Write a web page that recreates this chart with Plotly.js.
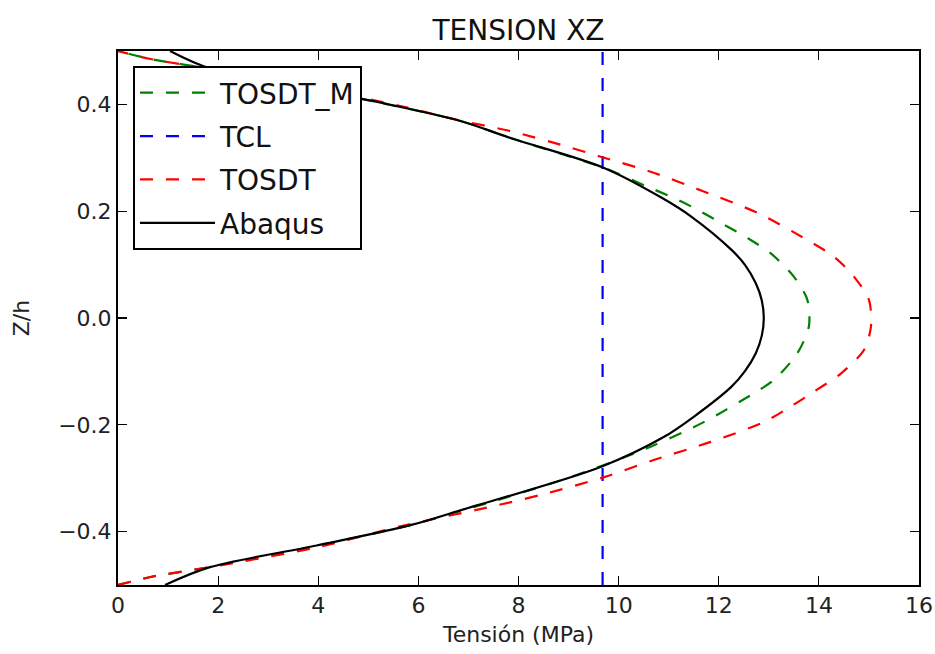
<!DOCTYPE html>
<html>
<head>
<meta charset="utf-8">
<script src="https://cdn.plot.ly/plotly-3.0.1.min.js"></script>
<style>html,body{margin:0;padding:0;background:#fff;}#chart{width:935px;height:654px;}</style>
</head>
<body>
<div id="chart"></div>
<script>
// TOSDT_M (green)
const zGreen = [-0.5, -0.485, -0.467, -0.43, -0.388, -0.36, -0.296, -0.241, -0.195, -0.141, -0.116, -0.066, -0.016, 0.034, 0.0775, 0.121, 0.15, 0.175, 0.203, 0.225, 0.246, 0.281, 0.337, 0.369, 0.406, 0.43, 0.467, 0.485, 0.5];
const xGreen = [0, 0.65, 1.8, 3.8, 5.84, 6.9, 9.1, 10.64, 11.7, 12.7, 13.1, 13.57, 13.8, 13.77, 13.5, 13.04, 12.57, 12.1, 11.57, 11.1, 10.57, 9.71, 7.84, 6.84, 5.1, 3.8, 1.8, 0.65, 0];
// TCL (blue)
const zTCL = [-0.5, 0.5];
const xTCL = [9.68, 9.68];
// TOSDT (red)
const zRed = [-0.5, -0.485, -0.467, -0.43, -0.39, -0.355, -0.33, -0.298, -0.266, -0.232, -0.195, -0.165, -0.138, -0.104, -0.06, -0.016, 0.034, 0.0775, 0.115, 0.146, 0.197, 0.237, 0.273, 0.302, 0.321, 0.35, 0.371, 0.397, 0.43, 0.467, 0.485, 0.5];
const xRed = [0, 0.65, 1.8, 3.95, 5.64, 7.37, 8.5, 9.71, 10.7, 11.84, 12.9, 13.45, 13.9, 14.44, 14.9, 15.04, 15.0, 14.7, 14.3, 13.77, 12.77, 11.7, 10.67, 9.64, 8.97, 7.84, 6.77, 5.64, 3.95, 1.8, 0.65, 0];
// Abaqus (black)
const zAbaqus = [-0.5, -0.467, -0.426, -0.388, -0.36, -0.279, -0.223, -0.185, -0.129, -0.1, -0.066, -0.033, 0, 0.033, 0.065, 0.1, 0.128, 0.19, 0.2246, 0.281, 0.337, 0.369, 0.406, 0.467, 0.5];
const xAbaqus = [0.94, 1.82, 3.97, 5.84, 6.84, 9.64, 10.9, 11.5, 12.25, 12.52, 12.74, 12.86, 12.9, 12.86, 12.74, 12.52, 12.25, 11.45, 10.87, 9.71, 7.84, 6.84, 5.1, 1.85, 1.04];

const xTicks = [0, 2, 4, 6, 8, 10, 12, 14, 16];
const yTicks = [-0.4, -0.2, 0.0, 0.2, 0.4];
const yTickText = ['\u22120.4', '\u22120.2', '0.0', '0.2', '0.4'];

const dash = '13px,13px';
const lw = 2.2;
const traces = [
  {x: xGreen, y: zGreen, name: 'TOSDT_M', legendgroup: 'g1', mode: 'lines', line: {color: '#008000', width: lw, dash: dash, shape: 'spline', smoothing: 0.8}},
  {x: xTCL, y: zTCL, name: 'TCL', legendgroup: 'g2', mode: 'lines', line: {color: '#0000ff', width: lw, dash: dash}},
  {x: xRed, y: zRed, name: 'TOSDT', legendgroup: 'g3', mode: 'lines', line: {color: '#ff0000', width: lw, dash: dash, shape: 'spline', smoothing: 0.8}},
  {x: xAbaqus, y: zAbaqus, name: 'Abaqus', legendgroup: 'g4', mode: 'lines', line: {color: '#000000', width: lw, shape: 'spline', smoothing: 0.9}}
];

const layout = {
  width: 935, height: 654,
  margin: {l: 118, r: 16, t: 51, b: 69},
  paper_bgcolor: '#fff', plot_bgcolor: '#fff',
  font: {family: 'DejaVu Sans', color: '#222', size: 22},
  showlegend: true,
  title: {text: 'TENSION XZ', font: {family: 'DejaVu Sans', size: 28, color: '#111'}, x: 0.5, xref: 'paper', y: 1 - 30/654, yref: 'container', yanchor: 'middle'},
  xaxis: {
    range: [0, 16], tickvals: xTicks, ticktext: xTicks.map(String),
    ticks: 'inside', ticklen: 9, tickwidth: 1.2, tickcolor: '#000',
    showline: true, linecolor: '#000', linewidth: 2, mirror: 'allticks',
    showgrid: false, zeroline: false,
    tickfont: {family: 'DejaVu Sans', size: 22, color: '#222'},
    title: {text: 'Tensión (MPa)', font: {family: 'DejaVu Sans', size: 22, color: '#222'}, standoff: 9}
  },
  yaxis: {
    range: [-0.5, 0.5], tickvals: yTicks, ticktext: yTickText,
    ticks: 'inside', ticklen: 9, tickwidth: 1.2, tickcolor: '#000',
    showline: true, linecolor: '#000', linewidth: 2, mirror: 'allticks',
    showgrid: false, zeroline: false,
    tickfont: {family: 'DejaVu Sans', size: 22, color: '#222'},
    title: {text: 'Z/h', font: {family: 'DejaVu Sans', size: 22, color: '#222'}, standoff: 22}
  },
  legend: {
    x: 0.0187, y: 0.972, xanchor: 'left', yanchor: 'top',
    bgcolor: '#fff', bordercolor: '#000', borderwidth: 2,
    font: {family: 'DejaVu Sans', size: 28, color: '#111'},
    traceorder: 'grouped', itemwidth: 75, tracegroupgap: 4
  }
};

Plotly.newPlot('chart', traces, layout, {staticPlot: true, displayModeBar: false});
</script>
</body>
</html>
